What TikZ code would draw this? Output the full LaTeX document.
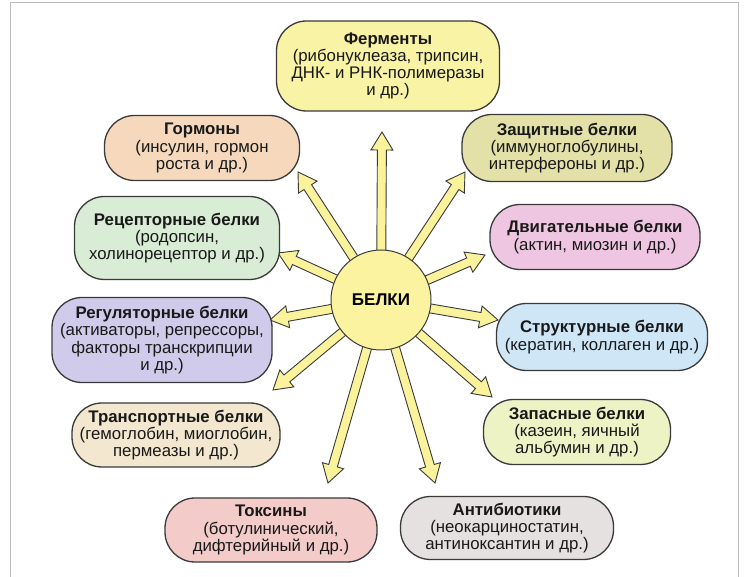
\documentclass[tikz,border=0pt]{standalone}
\usepackage{fontspec}
\setmainfont{Liberation Sans}
\usetikzlibrary{calc,backgrounds}
\definecolor{cArrow}{HTML}{FAF39C}
\definecolor{cCirc}{HTML}{FBF3A0}
\definecolor{cFer}{HTML}{F8F3A5}
\definecolor{cGor}{HTML}{F6D9BD}
\definecolor{cZas}{HTML}{E3E1A8}
\definecolor{cRec}{HTML}{D9ECD5}
\definecolor{cDvi}{HTML}{EFC6E2}
\definecolor{cReg}{HTML}{D0CBEA}
\definecolor{cStr}{HTML}{CFE6F6}
\definecolor{cTra}{HTML}{F3E8CF}
\definecolor{cZap}{HTML}{EEF3C6}
\definecolor{cTox}{HTML}{F3CBC9}
\definecolor{cAnt}{HTML}{E4E1E0}
\definecolor{cLine}{HTML}{3A3A3A}
\definecolor{cFrame}{HTML}{BBBBBB}
\tikzset{
  pill/.style={draw=cLine, line width=1.3pt, rounded corners=30pt, align=center,
    inner sep=0pt, font=\fontsize{16.8}{17.2}\selectfont, text=black!90},
  blockarrow/.style={fill=cArrow, draw=cLine, line width=0.9pt, line join=miter,
    to path={
      ($(\tikztostart)!4.5pt!90:(\tikztotarget)$)
      -- ($($(\tikztotarget)!18pt!(\tikztostart)$)!4.5pt!-90:(\tikztostart)$)
      -- ($($(\tikztotarget)!18pt!(\tikztostart)$)!11pt!-90:(\tikztostart)$)
      -- (\tikztotarget)
      -- ($($(\tikztotarget)!18pt!(\tikztostart)$)!11pt!90:(\tikztostart)$)
      -- ($($(\tikztotarget)!18pt!(\tikztostart)$)!4.5pt!90:(\tikztostart)$)
      -- ($(\tikztostart)!4.5pt!-90:(\tikztotarget)$) -- cycle
    }}
}
\newcommand{\hd}[1]{\textbf{#1}}
\begin{document}
\begin{tikzpicture}[x=1pt,y=-1pt]
\useasboundingbox (0,0) rectangle (745,577);
\draw[cFrame, line width=0.8pt] (10,577) -- (10,2) -- (738,2) -- (738,577);

% centre
\node[circle, draw=cLine, line width=1pt, fill=cCirc, minimum size=100pt, inner sep=0pt,
      font=\fontsize{17}{19}\selectfont\bfseries] (b) at (381,300) {БЕЛКИ};

% boxes
\node[pill, fill=cFer, minimum width=223pt, minimum height=90pt] (fer) at (388,66)
  {\hd{Ферменты}\\(рибонуклеаза, трипсин,\\ДНК- и РНК-полимеразы\\и др.)};
\node[pill, fill=cGor, minimum width=195pt, minimum height=65pt] (gor) at (202,148)
  {\hd{Гормоны}\\(инсулин, гормон\\роста и др.)};
\node[pill, fill=cZas, minimum width=210pt, minimum height=67pt] (zas) at (567,148)
  {\hd{Защитные белки}\\(иммуноглобулины,\\интерфероны и др.)};
\node[pill, fill=cRec, minimum width=205pt, minimum height=83pt] (rec) at (177,238)
  {\hd{Рецепторные белки}\\(родопсин,\\холинорецептор и др.)};
\node[pill, fill=cDvi, minimum width=210pt, minimum height=65pt] (dvi) at (595,237)
  {\hd{Двигательные белки}\\(актин, миозин и др.)};
\node[pill, fill=cReg, minimum width=220pt, minimum height=85pt] (reg) at (162,340)
  {\hd{Регуляторные белки}\\(активаторы, репрессоры,\\факторы транскрипции\\и др.)};
\node[pill, fill=cStr, minimum width=211pt, minimum height=67pt] (str) at (602,337)
  {\hd{Структурные белки}\\(кератин, коллаген и др.)};
\node[pill, fill=cTra, minimum width=208pt, minimum height=64pt] (tra) at (176,435)
  {\hd{Транспортные белки}\\(гемоглобин, миоглобин,\\пермеазы и др.)};
\node[pill, fill=cZap, minimum width=187pt, minimum height=65pt] (zap) at (577,432)
  {\hd{Запасные белки}\\(казеин, яичный\\альбумин и др.)};
\node[pill, fill=cTox, minimum width=212pt, minimum height=64pt] (tox) at (271,530)
  {\hd{Токсины}\\(ботулинический,\\дифтерийный и др.)};
\node[pill, fill=cAnt, minimum width=213pt, minimum height=63pt] (ant) at (507,528)
  {\hd{Антибиотики}\\(неокарциностатин,\\антиноксантин и др.)};

% arrow tips
\coordinate (t1) at (382,132);
\coordinate (t2) at (298,172);
\coordinate (t3) at (465,172);
\coordinate (t4) at (278,253);
\coordinate (t5) at (485,255);
\coordinate (t6) at (270,320);
\coordinate (t7) at (498,320);
\coordinate (t8) at (273,390);
\coordinate (t9) at (492,397);
\coordinate (t10) at (328,483);
\coordinate (t11) at (435,483);

\begin{pgfonlayer}{background}
\fill[white] (0,0) rectangle (745,577);
\foreach \t in {t1,t2,t3,t4,t5,t6,t7,t8,t9,t10,t11}{
  \draw[blockarrow] (b.center) to (\t);
}
\end{pgfonlayer}
\end{tikzpicture}
\end{document}
